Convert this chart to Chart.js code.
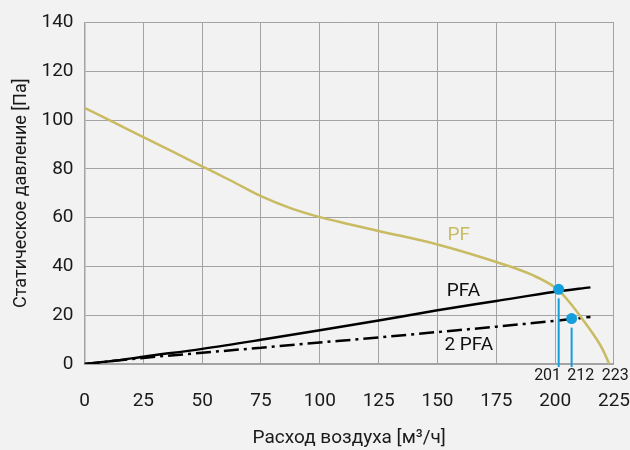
<!DOCTYPE html>
<html><head><meta charset="utf-8">
<script src="https://cdn.jsdelivr.net/npm/chart.js@4.4.1/dist/chart.umd.min.js"></script>
<style>html,body{margin:0;padding:0;background:#f2f2f2}canvas{display:block}</style>
</head><body>
<canvas id="c" width="630" height="450"></canvas>
<script>
const FONT = "Roboto, 'Liberation Sans', sans-serif";

// PF fan curve
const pfFlow     = [0, 12.5, 25, 37.5, 50, 62.5, 75, 87.5, 100, 112.5, 125, 150, 175, 190, 201, 206, 211, 216, 220, 223];
const pfPressure = [105, 99, 93, 87, 81, 75, 68.8, 63.9, 60.2, 57.3, 54.5, 49, 41.8, 36.6, 30.6, 25.4, 19.2, 12.5, 6.3, 0];

// PFA system curve
const pfaFlow     = [0, 12.5, 25, 50, 75, 100, 125, 150, 175, 200, 215];
const pfaPressure = [0, 1.3, 3, 6.2, 9.9, 13.8, 17.8, 22, 25.8, 29.6, 31.4];

// 2 PFA system curve
const pfa2Flow     = [0, 25, 50, 75, 100, 125, 150, 175, 200, 215];
const pfa2Pressure = [0, 2.5, 4.6, 6.7, 8.8, 10.9, 13.1, 15.3, 17.7, 19.3];

// operating points
const opFlow     = [201.5, 207];
const opPressure = [30.6, 18.6];

// flow labels under the axis
const flowLabels  = ['201', '212', '223'];
const flowLabelAt = [196.8, 210.9, 225.5];

// curve names
const curveNames     = ['PF', 'PFA', '2 PFA'];
const curveNameFlow  = [159, 161, 163.3];
const curveNamePress = [52.7, 29.9, 7.7];
const curveNameColor = ['#c8bb62', '#111111', '#111111'];

const xTicks = [0, 25, 50, 75, 100, 125, 150, 175, 200, 225];
const yTicks = [0, 20, 40, 60, 80, 100, 120, 140];

const zip = (xs, ys) => xs.map((x, i) => ({x, y: ys[i]}));
const BLUE = '#129fdb';
const GRID = '#a3a3a3';

const overlay = {
  id: 'overlay',
  afterDatasetsDraw(chart) {
    const {ctx, scales: {x, y}} = chart;
    ctx.save();
    ctx.strokeStyle = BLUE;
    ctx.lineWidth = 2;
    opFlow.forEach((f, i) => {
      const px = x.getPixelForValue(f);
      const py = y.getPixelForValue(opPressure[i]);
      ctx.beginPath();
      ctx.moveTo(px, py + 9);
      ctx.lineTo(px, y.getPixelForValue(0) + 3);
      ctx.stroke();
    });
    ctx.fillStyle = '#1a1a1a';
    ctx.font = "16px " + FONT;
    ctx.textAlign = 'center';
    ctx.textBaseline = 'middle';
    flowLabels.forEach((t, i) => {
      ctx.fillText(t, x.getPixelForValue(flowLabelAt[i]), y.getPixelForValue(0) + 12);
    });
    ctx.font = "19px " + FONT;
    curveNames.forEach((t, i) => {
      ctx.fillStyle = curveNameColor[i];
      ctx.fillText(t, x.getPixelForValue(curveNameFlow[i]), y.getPixelForValue(curveNamePress[i]));
    });
    ctx.restore();
  }
};

new Chart(document.getElementById('c'), {
  type: 'line',
  data: {
    datasets: [
      { label: 'points', data: zip(opFlow, opPressure), showLine: false,
        pointRadius: 5.5, pointBackgroundColor: BLUE, pointBorderWidth: 0, borderColor: BLUE },
      { label: 'PF', data: zip(pfFlow, pfPressure), borderColor: '#c8bb62', borderWidth: 2.5,
        pointRadius: 0, cubicInterpolationMode: 'monotone', fill: false },
      { label: 'PFA', data: zip(pfaFlow, pfaPressure), borderColor: '#000', borderWidth: 2.5,
        pointRadius: 0, cubicInterpolationMode: 'monotone', fill: false },
      { label: '2 PFA', data: zip(pfa2Flow, pfa2Pressure), borderColor: '#000', borderWidth: 2.5,
        borderDash: [15, 5, 3, 5], pointRadius: 0, cubicInterpolationMode: 'monotone', fill: false }
    ]
  },
  options: {
    responsive: false,
    animation: false,
    devicePixelRatio: 1,
    layout: { padding: { top: 20, right: 0, left: 0, bottom: 0 } },
    plugins: { legend: { display: false }, tooltip: { enabled: false } },
    scales: {
      x: {
        type: 'linear', min: 0, max: 225,
        afterBuildTicks: s => { s.ticks = xTicks.map(v => ({value: v})); },
        afterFit: s => { s.height = 86; },
        ticks: { font: { size: 19, family: FONT }, color: '#1a1a1a', padding: 0, maxRotation: 0 },
        grid: { color: GRID, lineWidth: 1, drawTicks: true, tickLength: 26, tickColor: 'rgba(0,0,0,0)' },
        border: { color: GRID, width: 1.5 },
        title: { display: true, text: 'Расход воздуха [м³/ч]', color: '#1a1a1a',
                 font: { size: 19, family: FONT }, padding: { top: 0, bottom: 0 } }
      },
      y: {
        type: 'linear', min: 0, max: 140,
        afterBuildTicks: s => { s.ticks = yTicks.map(v => ({value: v})); },
        afterFit: s => { s.width = 84.5; },
        ticks: { font: { size: 19, family: FONT }, color: '#1a1a1a', padding: 11 },
        grid: { color: GRID, lineWidth: 1, drawTicks: false },
        border: { color: GRID, width: 1.5 },
        title: { display: true, text: 'Статическое давление [Па]', color: '#1a1a1a',
                 font: { size: 18, family: FONT }, padding: { top: 11, bottom: 0 } }
      }
    }
  },
  plugins: [overlay]
});
</script>
</body></html>
